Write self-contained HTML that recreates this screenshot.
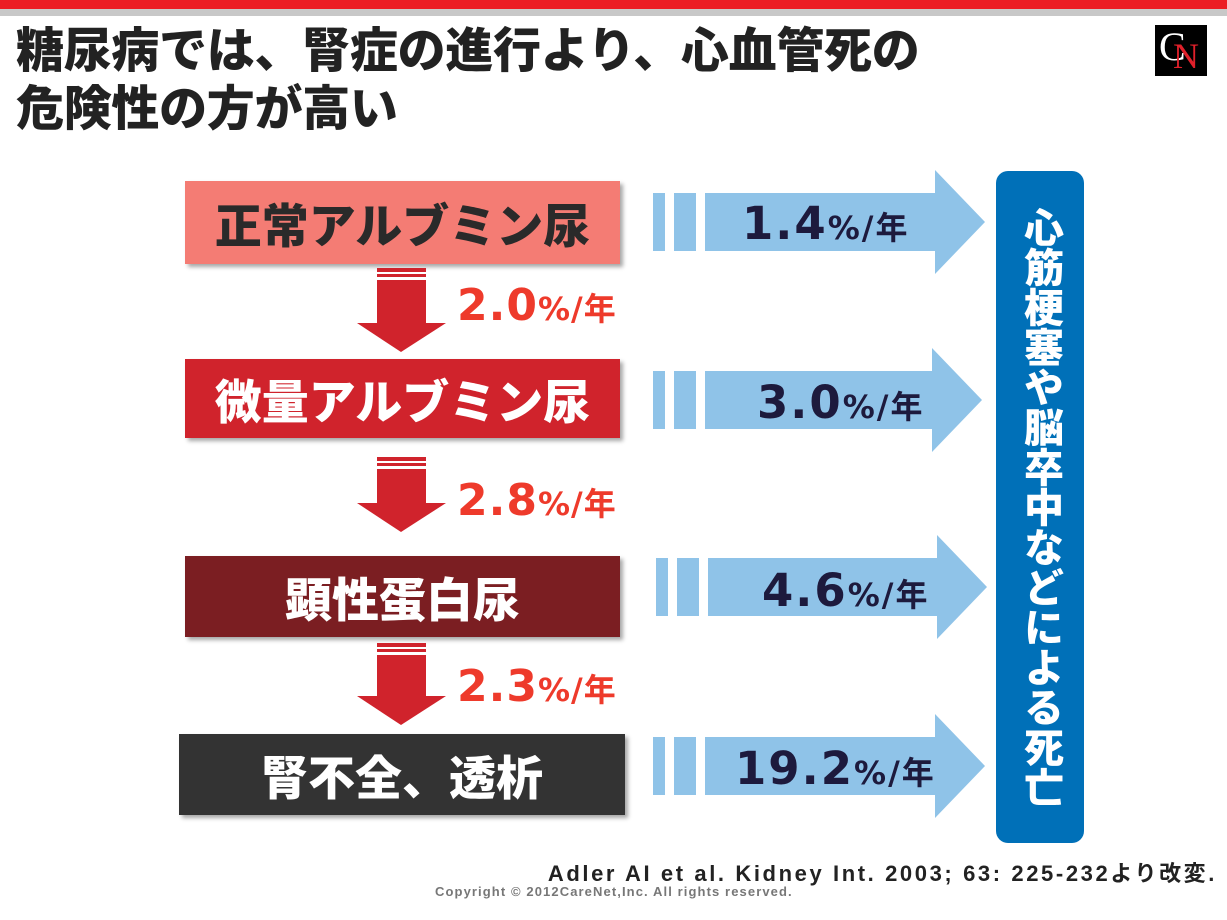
<!DOCTYPE html>
<html><head><meta charset="utf-8"><style>
body{margin:0;width:1227px;height:920px;background:#fff;position:relative;overflow:hidden;font-family:"Liberation Sans","Noto Sans CJK JP",sans-serif}
.a{position:absolute}
.title{left:16px;font-size:48px;font-weight:900;color:#222;letter-spacing:-0.3px;line-height:1;transform:scaleY(1.0);transform-origin:top left}
.box{position:absolute;color:#fff;font-weight:900;font-size:47px;display:flex;align-items:center;justify-content:center;box-shadow:3px 3px 4px rgba(0,0,0,.35)}
.pct{position:absolute;color:#ee3a2b;font-weight:bold;font-size:44px;line-height:1;font-family:"DejaVu Sans","Noto Sans CJK JP",sans-serif;letter-spacing:1px}
.pct span,.bp span{font-size:32px}
.bp{position:absolute;color:#1d1a3d;font-weight:bold;font-size:45px;line-height:1;font-family:"DejaVu Sans","Noto Sans CJK JP",sans-serif;letter-spacing:2px}
</style></head><body>
<div class="a" style="left:0;top:0;width:1227px;height:9px;background:#ec1c24"></div>
<div class="a" style="left:0;top:9px;width:1227px;height:7px;background:#c8c8c8"></div>
<div class="a title" style="top:28px">糖尿病では、腎症の進行より、心血管死の</div>
<div class="a title" style="top:86px">危険性の方が高い</div>
<div class="a" style="left:1155px;top:25px;width:52px;height:51px;background:#000;font-family:'Liberation Serif',serif;font-size:40px;line-height:51px"><span style="color:#fff;position:absolute;left:4px;top:-4px">C</span><span style="color:#e0202a;position:absolute;left:18px;top:6px;font-size:36px">N</span></div>

<div class="box" style="left:185px;top:181px;width:435px;height:83px;background:#f47c74;color:#2a2a2a">正常アルブミン尿</div>
<div class="box" style="left:185px;top:359px;width:435px;height:79px;background:#d0232c">微量アルブミン尿</div>
<div class="box" style="left:185px;top:556px;width:435px;height:81px;background:#7b1e22">顕性蛋白尿</div>
<div class="box" style="left:179px;top:734px;width:446px;height:81px;background:#333">腎不全、透析</div>

<svg class="a" style="left:0;top:0" width="1227" height="920">
<g fill="#d0232c">
<g transform="translate(0,268)"><rect x="377" y="0" width="49" height="4"/><rect x="377" y="6" width="49" height="3"/><rect x="377" y="12" width="49" height="46"/><polygon points="357,55 446,55 401,84"/></g>
<g transform="translate(0,457)"><rect x="377" y="0" width="49" height="4"/><rect x="377" y="6" width="49" height="3"/><rect x="377" y="12" width="49" height="46"/><polygon points="357,46 446,46 401,75"/></g>
<g transform="translate(0,643)"><rect x="377" y="0" width="49" height="4"/><rect x="377" y="6" width="49" height="3"/><rect x="377" y="12" width="49" height="46"/><polygon points="357,53 446,53 401,82"/></g>
</g>
<g fill="#8fc3e8">
<g transform="translate(0,222)"><rect x="653" y="-29" width="12" height="58"/><rect x="674" y="-29" width="22" height="58"/><rect x="705" y="-29" width="232" height="58"/><polygon points="935,-52 985,0 935,52"/></g>
<g transform="translate(0,400)"><rect x="653" y="-29" width="12" height="58"/><rect x="674" y="-29" width="22" height="58"/><rect x="705" y="-29" width="232" height="58"/><polygon points="932,-52 982,0 932,52"/></g>
<g transform="translate(0,587)"><rect x="656" y="-29" width="12" height="58"/><rect x="677" y="-29" width="22" height="58"/><rect x="708" y="-29" width="232" height="58"/><polygon points="937,-52 987,0 937,52"/></g>
<g transform="translate(0,766)"><rect x="653" y="-29" width="12" height="58"/><rect x="674" y="-29" width="22" height="58"/><rect x="705" y="-29" width="232" height="58"/><polygon points="935,-52 985,0 935,52"/></g>
</g>
</svg>

<div class="pct" style="left:457px;top:284px">2.0<span>%/年</span></div>
<div class="pct" style="left:457px;top:479px">2.8<span>%/年</span></div>
<div class="pct" style="left:457px;top:665px">2.3<span>%/年</span></div>

<div class="bp" style="left:742px;top:201px">1.4<span>%/年</span></div>
<div class="bp" style="left:757px;top:380px">3.0<span>%/年</span></div>
<div class="bp" style="left:762px;top:568px">4.6<span>%/年</span></div>
<div class="bp" style="left:735px;top:746px">19.2<span>%/年</span></div>

<div class="a" style="left:996px;top:171px;width:88px;height:672px;background:#0070b8;border-radius:12px;color:#fff;font-weight:900;font-size:40px;writing-mode:vertical-rl;display:flex;align-items:center;justify-content:center;letter-spacing:0px">心筋梗塞や脳卒中などによる死亡</div>

<div class="a" style="right:10px;top:856px;font-size:22px;font-weight:bold;color:#222;letter-spacing:2.6px">Adler AI et al. Kidney Int. 2003; 63: 225-232より改変.</div>
<div class="a" style="left:435px;top:884px;font-size:13px;font-weight:bold;color:#777;letter-spacing:1.1px">Copyright © 2012CareNet,Inc. All rights reserved.</div>
</body></html>
